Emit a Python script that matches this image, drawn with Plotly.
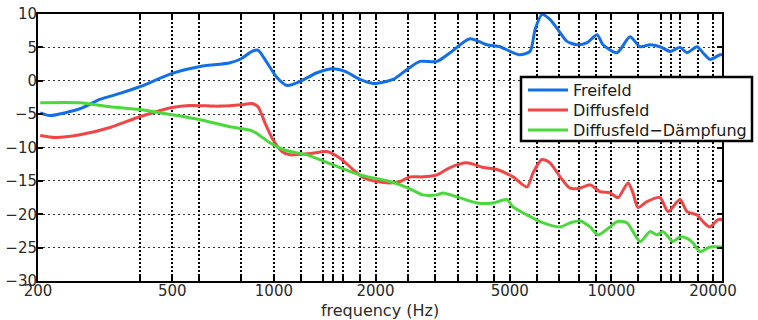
import plotly.graph_objects as go

# Frequency responses (Hz, dB)
freifeld_f = [203, 217, 266, 305, 350, 400, 500, 600, 741, 800, 861, 897, 954, 1021, 1094,
              1195, 1342, 1497, 1625, 1800, 1968, 2254, 2480, 2710, 3042, 3326, 3811, 4276,
              4676, 5010, 5358, 5740, 5944, 6224, 6576, 7046, 7388, 7906, 8472, 9068, 9440,
              10393, 11352, 12160, 13010, 13932, 14920, 15961, 16750, 17940, 18670, 19590,
              20980, 21280]
freifeld_db = [-4.8, -5.2, -4.2, -2.8, -1.9, -0.9, 1.1, 2.1, 2.7, 3.3, 4.4, 4.6, 2.7, 0.5, -0.7,
               -0.1, 1.2, 1.8, 1.4, 0.2, -0.4, 0.2, 1.7, 2.9, 2.9, 4.2, 6.3, 5.4,
               5.1, 4.4, 3.9, 4.4, 7.7, 9.9, 9.2, 7.2, 5.9, 5.4, 5.7, 6.9, 5.4,
               4.2, 6.6, 5.1, 5.4, 5.1, 4.4, 5.0, 4.2, 5.1, 4.2, 3.2,
               3.9, 3.9]

diffus_f = [203, 225, 266, 327, 400, 500, 564, 692, 800, 861, 897, 941, 993, 1057, 1116,
            1280, 1436, 1570, 1716, 1837, 2019, 2208, 2364, 2532, 2766, 3042, 3326, 3733,
            4168, 4582, 5107, 5622, 5860, 6224, 6576, 7046, 7540, 8072, 8650, 9248, 9906,
            10464, 11198, 11588, 11990, 12740, 13932, 14716, 15961, 16750, 17940, 18670,
            19590, 20700, 21280]
diffus_db = [-8.2, -8.5, -8.1, -7.0, -5.4, -4.0, -3.7, -3.8, -3.6, -3.4, -3.9, -6.3, -8.8, -10.6, -11.1,
             -10.9, -10.6, -11.6, -13.3, -14.5, -15.1, -15.3, -15.1, -14.4, -14.4, -14.1, -13.0, -12.3,
             -13.0, -13.3, -14.4, -15.9, -13.8, -11.8, -12.3, -14.4, -16.1, -16.1, -15.6, -16.6, -16.8,
             -17.5, -15.3, -16.8, -19.0, -18.1, -17.5, -19.6, -17.8, -19.6, -20.1, -21.1,
             -21.9, -20.8, -20.8]

daempfung_f = [203, 266, 327, 400, 500, 600, 741, 861, 897, 973, 1064, 1195, 1254, 1497, 1800,
               2208, 2480, 2766, 3042, 3170, 3486, 3998, 4458, 4906, 5107, 5622, 6140, 7046,
               7540, 8072, 8650, 9126, 9906, 10393, 11128, 12160, 13010, 13646, 14227, 15220,
               15961, 16750, 17460, 18290, 19590, 21420]
daempfung_db = [-3.3, -3.3, -3.9, -4.3, -5.1, -5.8, -6.9, -7.5, -8.0, -9.3, -10.3, -10.9, -11.1, -12.6, -14.1,
                -15.1, -16.0, -17.1, -17.1, -16.8, -17.4, -18.3, -18.3, -17.8, -18.9, -20.1, -21.1, -21.9,
                -21.3, -21.0, -21.9, -23.1, -21.9, -21.1, -21.3, -24.1, -22.6, -23.1, -22.6, -24.1,
                -23.4, -23.6, -24.3, -25.6, -24.9, -24.9]

grid_freqs = [200, 400, 500, 600, 800, 1000, 1200, 1400, 1500, 1600, 1800, 2000, 2500, 3000,
              3500, 4000, 4500, 5000, 6000, 7000, 8000, 9000, 10000, 12000, 14000, 15000,
              16000, 18000, 20000]
labelled_freqs = [200, 500, 1000, 2000, 5000, 10000, 20000]
tick_text = [str(f) if f in labelled_freqs else "" for f in grid_freqs]

series_names = ["Freifeld", "Diffusfeld", "Diffusfeld\u2212Dämpfung"]
series_f = [freifeld_f, diffus_f, daempfung_f]
series_db = [freifeld_db, diffus_db, daempfung_db]
series_colors = ["#146ee4", "#f04646", "#4ad83c"]

font_main = "DejaVu Sans, Liberation Sans, Arial, sans-serif"

fig = go.Figure()
for name, f, db, color in zip(series_names, series_f, series_db, series_colors):
    fig.add_trace(go.Scatter(
        x=f, y=db, name=name, mode="lines", showlegend=False,
        line=dict(color=color, width=3, shape="spline", smoothing=0.7),
    ))

# Boxed legend in the upper right, partly outside the axes
plot_left, plot_right, plot_top, plot_bottom = 38, 722, 14, 281
pw, ph = plot_right - plot_left, plot_bottom - plot_top


def px_x(px):
    return (px - plot_left) / pw


def px_y(py):
    return (plot_bottom - py) / ph


fig.add_shape(type="rect", xref="paper", yref="paper",
              x0=px_x(521), x1=px_x(752), y0=px_y(141), y1=px_y(77),
              fillcolor="white", line=dict(color="black", width=2.5), layer="above")
for i, (name, color) in enumerate(zip(series_names, series_colors)):
    row_y = px_y(90 + 20 * i)
    fig.add_shape(type="line", xref="paper", yref="paper",
                  x0=px_x(528), x1=px_x(568), y0=row_y, y1=row_y,
                  line=dict(color=color, width=3), layer="above")
    fig.add_annotation(xref="paper", yref="paper", x=px_x(571), y=row_y,
                       xanchor="left", yanchor="middle", showarrow=False,
                       text=name, font=dict(family=font_main, size=16, color="#1a1a1a"))

fig.update_layout(
    width=758, height=320,
    margin=dict(l=plot_left, r=758 - plot_right, t=plot_top, b=320 - plot_bottom, autoexpand=False),
    paper_bgcolor="white", plot_bgcolor="white",
    font=dict(family=font_main, size=16, color="#2a2a2a"),
    showlegend=False,
    xaxis=dict(
        type="log", range=[2.30103, 4.3277],
        tickmode="array", tickvals=grid_freqs, ticktext=tick_text,
        ticks="inside", ticklen=5, tickwidth=2, tickcolor="black",
        showline=True, linecolor="black", linewidth=2, mirror="ticks",
        showgrid=True, gridcolor="black", gridwidth=2, griddash="2px,2px",
        zeroline=False, ticklabelstandoff=-5,
        title=dict(text="frequency (Hz)", standoff=6,
                   font=dict(family=font_main, size=16, color="#2a2a2a")),
        tickfont=dict(family=font_main, size=15, color="#2a2a2a"),
    ),
    yaxis=dict(
        range=[-30, 10], dtick=5, tick0=0,
        ticks="inside", ticklen=5, tickwidth=2, tickcolor="black",
        showline=True, linecolor="black", linewidth=2, mirror="ticks",
        showgrid=True, gridcolor="#333333", gridwidth=1, griddash="2px,3px",
        zeroline=False, ticklabelstandoff=-4,
        tickfont=dict(family=font_main, size=15, color="#2a2a2a"),
    ),
)

fig.write_html("out.html")
